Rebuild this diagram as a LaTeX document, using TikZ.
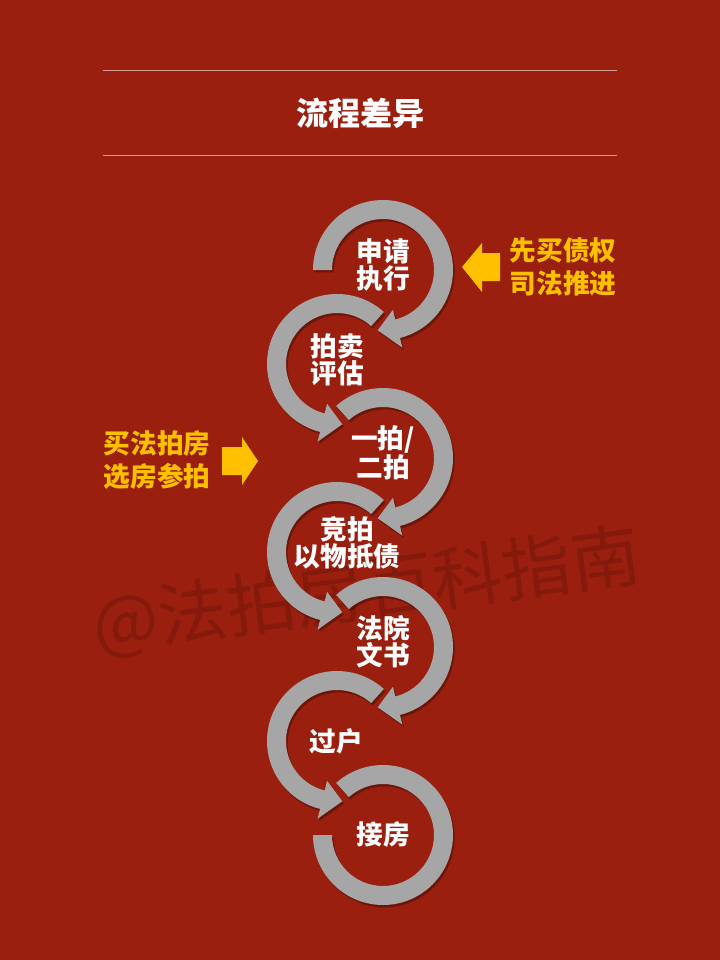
\documentclass[tikz,border=0pt]{standalone}
\usepackage{fontspec}
\setmainfont{Noto Sans CJK SC}
\definecolor{bgred}{RGB}{155,31,14}
\definecolor{ringgray}{RGB}{166,166,166}
\definecolor{tipyellow}{RGB}{255,192,0}
\definecolor{rulepink}{RGB}{214,160,150}
\definecolor{markred}{RGB}{132,26,12}
\tikzset{
  ring/.style={fill=ringgray, preaction={fill=black, opacity=0.3, transform canvas={xshift=1.2pt, yshift=-1.8pt}}},
  steptext/.style={text=white, font=\bfseries\fontsize{20}{20.5}\selectfont, align=center, inner sep=0pt},
  sidetext/.style={text=tipyellow, font=\bfseries\fontsize{20}{24.5}\selectfont, align=center, inner sep=0pt},
  titletext/.style={text=white, font=\bfseries\fontsize{24}{26}\selectfont, inner sep=0pt},
  marktext/.style={text=markred, font=\fontsize{52}{54}\selectfont, inner sep=0pt, rotate=7.5},
  rule/.style={draw=rulepink, line width=0.75pt}
}
\begin{document}
\begin{tikzpicture}[x=0.75pt,y=0.75pt,yscale=-1,xscale=1]
%Shape: Rectangle
\fill[bgred] (0,0) rectangle (720,960);
\useasboundingbox (0,0) rectangle (720,960);

% Text Node
\node[marktext] (mark) at (367,592) {@法拍房百科指南};

%Straight Lines
\coordinate (ta) at (103,70);
\coordinate (tb) at (617,70);
\coordinate (ba) at (103,155);
\coordinate (bb) at (617,155);
\draw[rule] (ta) -- (tb);
\draw[rule] (ba) -- (bb);

% Text Node
\node[titletext] (title) at (360,113) {流程差异};

%Shape: Circular Arrow
\fill[ring] ([shift={(383,270)}]180:70) arc[start angle=180, end angle=436, radius=70] -- ([shift={(383,270)}]436:80) -- ([shift={(383,270)}]455:60.5) -- ([shift={(383,270)}]436:41) -- ([shift={(383,270)}]436:51) arc[start angle=436, end angle=180, radius=51] -- cycle;
%Shape: Circular Arrow
\fill[ring] ([shift={(337,364)}]-48:70) arc[start angle=-48, end angle=-256, radius=70] -- ([shift={(337,364)}]-256:80) -- ([shift={(337,364)}]-275:60.5) -- ([shift={(337,364)}]-256:41) -- ([shift={(337,364)}]-256:51) arc[start angle=-256, end angle=-48, radius=51] -- cycle;
%Shape: Circular Arrow
\fill[ring] ([shift={(383,458)}]228:70) arc[start angle=228, end angle=436, radius=70] -- ([shift={(383,458)}]436:80) -- ([shift={(383,458)}]455:60.5) -- ([shift={(383,458)}]436:41) -- ([shift={(383,458)}]436:51) arc[start angle=436, end angle=228, radius=51] -- cycle;
%Shape: Circular Arrow
\fill[ring] ([shift={(337,552)}]-48:70) arc[start angle=-48, end angle=-256, radius=70] -- ([shift={(337,552)}]-256:80) -- ([shift={(337,552)}]-275:60.5) -- ([shift={(337,552)}]-256:41) -- ([shift={(337,552)}]-256:51) arc[start angle=-256, end angle=-48, radius=51] -- cycle;
%Shape: Circular Arrow
\fill[ring] ([shift={(383,647)}]228:70) arc[start angle=228, end angle=436, radius=70] -- ([shift={(383,647)}]436:80) -- ([shift={(383,647)}]455:60.5) -- ([shift={(383,647)}]436:41) -- ([shift={(383,647)}]436:51) arc[start angle=436, end angle=228, radius=51] -- cycle;
%Shape: Circular Arrow
\fill[ring] ([shift={(337,741)}]-48:70) arc[start angle=-48, end angle=-256, radius=70] -- ([shift={(337,741)}]-256:80) -- ([shift={(337,741)}]-275:60.5) -- ([shift={(337,741)}]-256:41) -- ([shift={(337,741)}]-256:51) arc[start angle=-256, end angle=-48, radius=51] -- cycle;
%Shape: Circle Arc
\fill[ring] ([shift={(383,835)}]228:70) arc[start angle=228, end angle=540, radius=70] -- ([shift={(383,835)}]540:51) arc[start angle=540, end angle=228, radius=51] -- cycle;

% Text Node
\node[steptext] (s1) at (383,265) {申请\\执行};
\node[steptext] (s2) at (337,360) {拍卖\\评估};
\node[steptext] (s3) at (383,453) {一拍/\\二拍};
\node[steptext] (s4) at (347,543) {竞拍\\以物抵债};
\node[steptext] (s5) at (383,642) {法院\\文书};
\node[steptext] (s6) at (336,741) {过户};
\node[steptext] (s7) at (383,835) {接房};

% Text Node
\node[sidetext] (right) at (563,267) {先买债权\\司法推进};
\node[sidetext] (left) at (157,460) {买法拍房\\选房参拍};

%Shape: Left Arrow
\fill[tipyellow] (462,267) -- (482,243) -- (482,253) -- (500,253) -- (500,281) -- (482,281) -- (482,292) -- cycle;
%Shape: Right Arrow
\fill[tipyellow] (258,461) -- (242,437) -- (242,447) -- (222,447) -- (222,475) -- (242,475) -- (242,485) -- cycle;

\end{tikzpicture}
\end{document}
